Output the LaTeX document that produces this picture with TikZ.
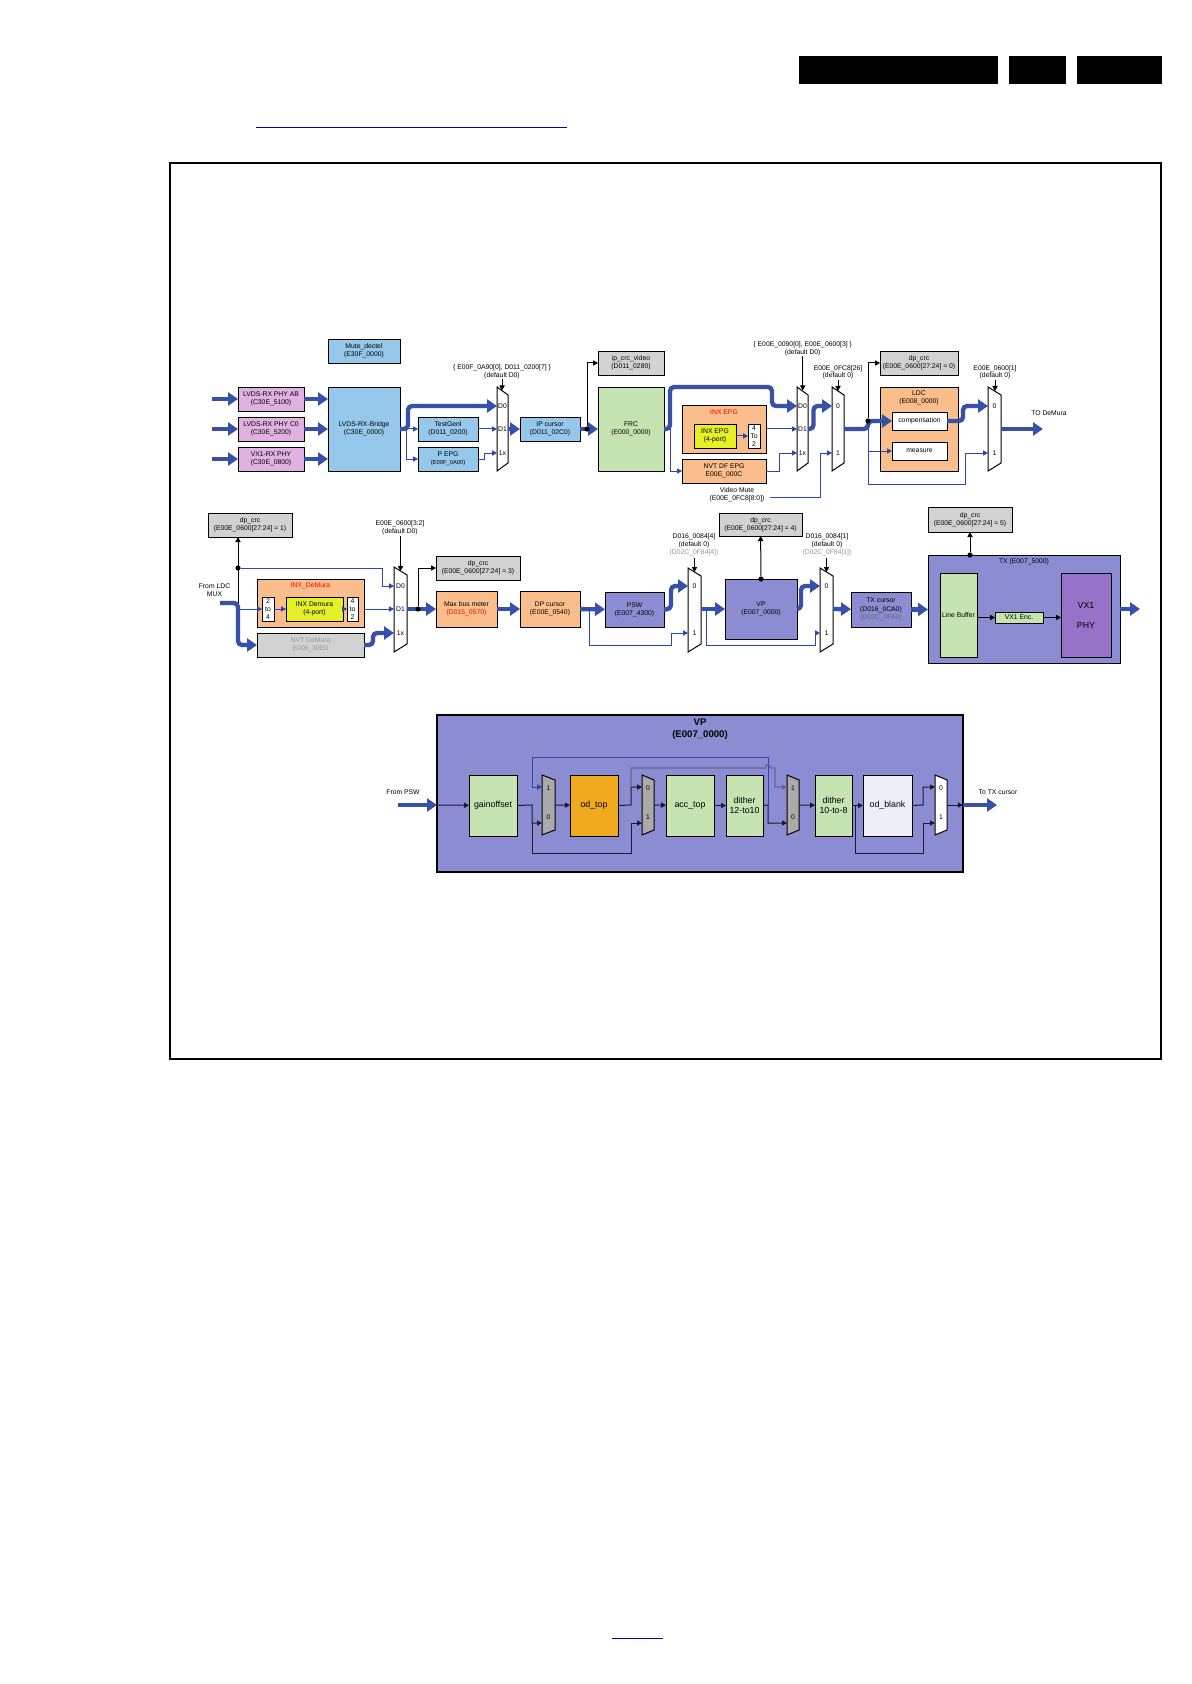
\documentclass[tikz,border=0pt]{standalone}
\usepackage{fontspec}
\setmainfont{Liberation Sans}
\usetikzlibrary{arrows.meta}
\definecolor{lblue}{RGB}{150,200,235}
\definecolor{pinkb}{RGB}{225,178,225}
\definecolor{grayb}{RGB}{210,210,210}
\definecolor{greenb}{RGB}{197,228,178}
\definecolor{orangeb}{RGB}{250,190,140}
\definecolor{yellowb}{RGB}{230,240,40}
\definecolor{purpleb}{RGB}{140,140,210}
\definecolor{vxphy}{RGB}{150,115,200}
\definecolor{odtopc}{RGB}{240,170,30}
\definecolor{mgray}{RGB}{170,170,170}
\definecolor{odblank}{RGB}{238,238,246}
\definecolor{wblue}{RGB}{55,80,170}
\definecolor{tblue}{RGB}{45,70,175}
\definecolor{gtext}{RGB}{150,150,150}
\definecolor{linkblue}{RGB}{0,0,190}
\definecolor{dkline}{RGB}{25,25,50}
\newcommand{\bx}[7]{\node[#6, minimum width={(#4-#2)*0.5pt}, minimum height={(#5-#3)*0.5pt}] (#1) at ({(#2+#4)/2},{(#3+#5)/2}) {#7};}
\newcommand{\muxp}[7]{%
  \draw[line width=0.5pt, fill=#7] (#2,#4) -- (#3,#4+#6) -- (#3,#5-#6) -- (#2,#5) -- cycle;
  \coordinate (#1) at ({(#2+#3)/2},{(#4+#5)/2});}
\begin{document}
\begin{tikzpicture}[x=0.5pt,y=-0.5pt,
  every node/.style={font=\fontsize{3.4}{4.1}\selectfont, inner sep=0pt},
  box/.style={draw=black, line width=0.45pt, inner sep=0pt, outer sep=0pt, align=center},
  lbl/.style={align=center, inner sep=0pt},
  thk/.style={draw=wblue, line width=2.2pt, line join=round, rounded corners=2pt, -{Triangle[length=5pt,width=6.5pt]}},
  thn/.style={draw=tblue, line width=0.5pt, -{Triangle[length=2.5pt,width=2.6pt]}},
  blk/.style={draw=black, line width=0.5pt, -{Triangle[length=2.5pt,width=2.6pt]}},
  dk/.style={draw=dkline, line width=0.5pt, -{Triangle[length=2.5pt,width=2.6pt]}},
  dot/.style={circle, fill=black, inner sep=0pt, minimum size=2.6pt},
  vpt/.style={font=\fontsize{4.4}{5.3}\selectfont, align=center},
  mlab/.style={font=\fontsize{3.4}{4}\selectfont}]
\useasboundingbox (0,0) rectangle (1191,1684);
\fill[white] (0,0) rectangle (1191,1684);
% header bars
\fill[black] (799,56) rectangle (998,84);
\fill[black] (1009,56) rectangle (1066,84);
\fill[black] (1077,56) rectangle (1162,84);
\draw[linkblue, line width=0.7pt] (256,127.3) -- (566.7,127.3);
\draw[linkblue, line width=0.7pt] (612.3,1638.3) -- (662.7,1638.3);
% frame
\draw[line width=1pt] (170,163) rectangle (1161,1059);

% ================= ROW 1 =================
\bx{mute}{328}{339}{400}{363}{box,fill=lblue}{Mute\_dectel\\(E30F\_0000)}
\bx{phyab}{238}{387}{304}{411}{box,fill=pinkb}{LVDS-RX PHY AB\\(C30E\_5100)}
\bx{phyc0}{238}{417}{304}{441}{box,fill=pinkb}{LVDS-RX PHY C0\\(C30E\_5200)}
\bx{vx1rx}{238}{447}{304}{471}{box,fill=pinkb}{VX1-RX PHY\\(C30E\_0800)}
\bx{bridge}{328}{387}{400}{471}{box,fill=lblue}{LVDS-RX-Bridge\\(C30E\_0000)}
\bx{testgen}{418}{417}{478}{441}{box,fill=lblue}{TestGenl\\(D011\_0200)}
\bx{pepg}{418}{447}{478}{471}{box,fill=lblue}{P EPG\\{\fontsize{2.9}{3.5}\selectfont (E00F\_0A00)}}
\muxp{muxA}{497}{508}{387}{471}{8}{white}
\node[mlab] (muxAd0) at (502.5,406) {D0};
\node[mlab] (muxAd1) at (502.5,429) {D1};
\node[mlab] (muxA1x) at (502.5,453) {1x};
\node[lbl] (labA1) at (502,368) {\{ E00F\_0A90[0], D011\_0200[7] \}};
\node[lbl] (labA2) at (502,376) {(default D0)};
\bx{ipcur}{520}{417}{580}{441}{box,fill=lblue}{IP cursor\\(D011\_02C0)}
\bx{ipcrc}{598}{351}{664}{375}{box,fill=grayb}{ip\_crc\_video\\(D011\_0280)}
\bx{frc}{598}{387}{664}{471}{box,fill=greenb}{FRC\\(E000\_0000)}
\bx{inxepg}{682}{405}{766}{453}{box,fill=orangeb}{}
\node[text=red] (inxepgt) at (724,412) {INX EPG};
\bx{inxepg4}{694}{424}{736}{448}{box,fill=yellowb}{INX EPG\\(4-port)}
\bx{to2}{748}{424}{760}{448}{box,fill=white}{4\\To\\2}
\bx{nvtepg}{682}{459}{766}{483}{box,fill=orangeb}{NVT DF EPG\\E00E\_000C}
\muxp{muxB}{797}{808}{387}{471}{8}{white}
\node[mlab] (muxBd0) at (802.5,406) {D0};
\node[mlab] (muxBd1) at (802.5,429) {D1};
\node[mlab] (muxB1x) at (802.5,453) {1x};
\node[lbl] (labB1) at (802.7,345) {\{ E00E\_0090[0], E00E\_0600[3] \}};
\node[lbl] (labB2) at (802.7,352.5) {(default D0)};
\muxp{muxC}{832}{844}{387}{471}{8}{white}
\node[mlab] (muxC0) at (838,406) {0};
\node[mlab] (muxC1) at (838,453) {1};
\node[lbl] (labC1) at (838,368.3) {E00E\_0FC8[26]};
\node[lbl] (labC2) at (838,376) {(default 0)};
\node[lbl] (vmute) at (737,494.5) {Video Mute\\(E00E\_0FC8[8:0])};
\bx{dpcrc0}{880}{351}{958}{375}{box,fill=grayb}{dp\_crc\\(E00E\_0600[27:24] = 0)}
\bx{ldc}{880}{387}{958}{471}{box,fill=orangeb}{}
\node[lbl] (ldct) at (919,398) {LDC\\(E008\_0000)};
\bx{comp}{892}{412}{947}{430}{box,fill=white}{compensation}
\bx{meas}{892}{442}{947}{460}{box,fill=white}{measure}
\muxp{muxD}{988}{1001}{387}{471}{8}{white}
\node[mlab] (muxD0) at (994.5,406) {0};
\node[mlab] (muxD1) at (994.5,453) {1};
\node[lbl] (labD1) at (995,368.3) {E00E\_0600[1]};
\node[lbl] (labD2) at (995,376) {(default 0)};
\node[lbl] (todemt) at (1049,413) {TO DeMura};

% row 1 wires
\coordinate (i1) at (212,399);
\coordinate (i2) at (212,429);
\coordinate (i3) at (212,459);
\draw[thk] (i1) -- (phyab);
\draw[thk] (i2) -- (phyc0);
\draw[thk] (i3) -- (vx1rx);
\draw[thk] (phyab) -- (phyab -| bridge.west);
\draw[thk] (phyc0) -- (phyc0 -| bridge.west);
\draw[thk] (vx1rx) -- (vx1rx -| bridge.west);
\draw[thn] (406,429) -- (testgen);
\draw[thn] (406,429) |- (pepg);
\draw[thk] (bridge.east) -- (408,429) -- (408,406) -- (497,406);
\draw[thn] (testgen) -- (497,429);
\draw[thn] (pepg.east) -- (484,459) |- (497,453);
\draw[blk] (502,379.5) -- (502,390.5);
\draw[thk] (508,429) -- (ipcur);
\draw[thk] (ipcur) -- (frc);
\node[dot] (d1) at (587,429) {};
\draw[blk] (d1) |- (ipcrc);
\draw[thk] (frc.east) -- (670,429) -- (670,387) -- (772,387) -- (772,406) -- (797,406);
\draw[thn] (670,429) |- (nvtepg);
\draw[thn] (inxepg4) -- (to2);
\draw[thn] (inxepg.east) -- (797,429);
\draw[thn] (nvtepg.east) -- (779,471) |- (797,453);
\draw[blk] (802.7,356.5) -- (802.7,390.5);
\draw[thk] (808,429) -- (813.5,429) -- (813.5,406) -- (832,406);
\coordinate (vmin) at (770,497);
\draw[thn] (vmin) -- (820,497) |- (832,453);
\draw[blk] (838,380) -- (838,391);
\draw[thk] (844,429) -- (868,429) -- (868,421) -- (comp.west);
\node[dot] (d2) at (868,421) {};
\draw[blk] (d2) |- (dpcrc0);
\draw[thn] (d2) |- (meas);
\draw[thn] (868,451) -- (868,484) -- (965,484) |- (988,453);
\draw[thk] (comp.east) -- (963,421) -- (963,406) -- (988,406);
\draw[blk] (995,380) -- (995,391);
\coordinate (todem) at (1043,429);
\draw[thk] (1001,429) -- (todem);

% ================= ROW 2 =================
\bx{dpcrc1}{208}{513}{292}{537}{box,fill=grayb}{dp\_crc\\(E00E\_0600[27:24] = 1)}
\node[lbl] (fromldc) at (214.5,590.5) {From LDC\\MUX};
\bx{inxdem}{257}{579}{364}{627}{box,fill=orangeb}{}
\node[text=red] (inxdemt) at (310.5,586) {INX\_DeMura};
\bx{to4}{262}{597}{274}{621}{box,fill=white}{2\\to\\4}
\bx{inxdem4}{286}{597}{343}{621}{box,fill=yellowb}{INX Demura\\(4-port)}
\bx{to2b}{347}{597}{358}{621}{box,fill=white}{4\\to\\2}
\bx{nvtdem}{257}{633}{364}{657}{box,fill=grayb,text=gtext}{NVT DeMura\\E006\_30E0}
\muxp{muxE}{394}{407}{567}{652}{8}{white}
\node[mlab] (muxEd0) at (400.5,586) {D0};
\node[mlab] (muxEd1) at (400.5,609) {D1};
\node[mlab] (muxE1x) at (400.5,633) {1x};
\node[lbl] (labE1) at (400,524) {E00E\_0600[3:2]};
\node[lbl] (labE2) at (400,532) {(default D0)};
\bx{dpcrc3}{436}{556}{520}{580}{box,fill=grayb}{dp\_crc\\(E00E\_0600[27:24] = 3)}
\bx{maxbus}{436}{591}{497}{627}{box,fill=orangeb}{Max bus meter\\\textcolor{red}{(D015\_0570)}}
\bx{dpcur}{520}{591}{580}{627}{box,fill=orangeb}{DP cursor\\(E00E\_0540)}
\bx{psw}{605}{592}{664}{627}{box,fill=purpleb}{PSW\\(E007\_4300)}
\muxp{muxF}{688}{701}{568}{652}{8}{white}
\node[mlab] (muxF0) at (694.5,586) {0};
\node[mlab] (muxF1) at (694.5,633) {1};
\node[lbl] (labF) at (694,545) {D016\_0084[4]\\(default 0)\\\textcolor{gtext}{(D02C\_0F84[4])}};
\bx{vp}{725}{579}{797}{639}{box,fill=purpleb}{VP\\(E007\_0000)}
\bx{dpcrc4}{719}{513}{802}{536}{box,fill=grayb}{dp\_crc\\(E00E\_0600[27:24] = 4)}
\muxp{muxG}{820}{833}{568}{652}{8}{white}
\node[mlab] (muxG0) at (826.5,586) {0};
\node[mlab] (muxG1) at (826.5,633) {1};
\node[lbl] (labG) at (827,545) {D016\_0084[1]\\(default 0)\\\textcolor{gtext}{(D02C\_0F84[1])}};
\bx{txcur}{851}{592}{911}{627}{box,fill=purpleb}{TX cursor\\(D016\_0CA0)\\\textcolor{gtext!70!black}{(D02C\_0FA0)}}
\bx{tx}{928}{555}{1120}{663}{box,fill=purpleb}{}
\node (txt) at (1024,562) {TX (E007\_5000)};
\bx{dpcrc5}{928}{507}{1012}{532}{box,fill=grayb}{dp\_crc\\(E00E\_0600[27:24] = 5)}
\bx{linebuf}{940}{573}{977}{657}{box,fill=greenb}{Line Buffer}
\bx{vx1enc}{995}{612}{1043}{623}{box,fill=greenb}{VX1 Enc.}
\bx{phy}{1061}{573}{1111}{657}{box,fill=vxphy,font=\fontsize{4.4}{5}\selectfont}{VX1\\[5pt]PHY}

% row 2 wires
\coordinate (ldcin) at (220,603);
\draw[thk] (ldcin) -- (238,603) -- (238,645) -- (nvtdem.west);
\draw[thn] (238,609) -- (to4);
\draw[blk] (238,603) -- (238,537);
\node[dot] (d3) at (238,568) {};
\draw[thn] (d3) -- (382,568) |- (394,586);
\draw[thn] (to4) -- (inxdem4);
\draw[thn] (inxdem4) -- (to2b);
\draw[thn] (to2b -| inxdem.east) -- (394,609);
\draw[thk] (nvtdem.east) -- (373,645) -- (373,633) -- (394,633);
\draw[blk] (400.5,536) -- (400.5,571);
\draw[thk] (407,609) -- (maxbus);
\node[dot] (d4) at (418,609) {};
\draw[blk] (d4) |- (dpcrc3);
\draw[thk] (maxbus) -- (dpcur);
\draw[thk] (dpcur) -- (psw);
\draw[thn] (589,609) -- (589,645) -- (671,645) |- (688,633);
\draw[thk] (psw.east) -- (671,609) -- (671,586) -- (688,586);
\draw[blk] (694.5,557.5) -- (694.5,572);
\draw[thk] (701,609) -- (vp);
\draw[thn] (706,609) -- (706,645) -- (815,645) |- (820,633);
\node[dot] (d5) at (761,579) {};
\draw[blk] (d5) -- (dpcrc4);
\draw[thk] (vp.east) -- (801,609) -- (801,586) -- (820,586);
\draw[blk] (826.5,557.5) -- (826.5,572);
\draw[thk] (833,609) -- (txcur);
\draw[thk] (txcur) -- (txcur -| tx.west);
\node[dot] (d6) at (970,555) {};
\draw[blk] (d6) -- (dpcrc5);
\draw[blk] (linebuf.east |- vx1enc) -- (vx1enc);
\draw[blk] (vx1enc) -- (vx1enc -| phy.west);
\coordinate (txout) at (1140,609);
\draw[thk] (tx.east) -- (txout);

% ================= VP detail =================
\bx{vpbig}{437}{715}{963}{872}{box,fill=purpleb,line width=0.6pt}{}
\node[font=\fontsize{4.8}{5.8}\selectfont\bfseries, align=center] (vptitle) at (700,729) {VP\\(E007\_0000)};
\node (frompsw) at (403,792) {From PSW};
\coordinate (pswin) at (398,805);
\draw[thk] (pswin) -- (437,805);
\bx{gain}{469}{775}{517}{836}{box,fill=greenb,vpt}{gainoffset}
\muxp{ma}{542}{555}{775}{835}{5}{mgray}
\bx{odtop}{570}{775}{618}{836}{box,fill=odtopc,vpt}{od\_top}
\muxp{mb}{642}{654}{775}{835}{5}{mgray}
\bx{acc}{666}{775}{714}{836}{box,fill=greenb,vpt}{acc\_top}
\bx{dith1}{726}{775}{763}{836}{box,fill=greenb,vpt}{dither\\12-to10}
\muxp{mc}{787}{799}{775}{835}{5}{mgray}
\bx{dith2}{815}{775}{852}{836}{box,fill=greenb,vpt}{dither\\10-to-8}
\bx{odb}{863}{775}{912}{836}{box,fill=odblank,vpt}{od\_blank}
\muxp{md}{935}{947}{775}{835}{5}{white}
\node[mlab] (ma1) at (548.5,788) {1};
\node[mlab] (ma0) at (548.5,817) {0};
\node[mlab] (mb0) at (648,788) {0};
\node[mlab] (mb1) at (648,817) {1};
\node[mlab] (mc1) at (793,788) {1};
\node[mlab] (mc0) at (793,817) {0};
\node[mlab] (md0) at (941,788) {0};
\node[mlab] (md1) at (941,817) {1};
\draw[dk] (437,805) -- (gain);
\draw[dk] (gain.east) -- (532,805) -- (532,823) -- (542,823);
\draw[dk] (532,823) -- (532,853) -- (631,853) -- (631,823) -- (642,823);
\draw[draw=tblue, line width=0.5pt, -{Triangle[length=2.5pt,width=2.6pt]}] (768,805) -- (768,757) -- (532,757) -- (532,787) -- (542,787);
\draw[dk] (555,805) -- (odtop);
\draw[dk] (odtop.east) -- (631,805) -- (631,787) -- (642,787);
\draw[draw=black!70!blue!60, line width=0.7pt, -{Triangle[length=2.5pt,width=2.6pt]}] (631,787) -- (631,768) -- (765.5,768) .. controls (765.5,763.5) and (770.5,763.5) .. (770.5,768) -- (775,768) -- (775,787) -- (787,787);
\draw[dk] (654,805) -- (acc);
\draw[dk] (acc) -- (dith1);
\draw[dk] (dith1.east) -- (768,805) -- (768,823) -- (787,823);
\draw[dk] (799,805) -- (dith2);
\draw[dk] (dith2) -- (odb);
\draw[dk] (855,805) -- (855,853) -- (923,853) -- (923,823) -- (935,823);
\draw[dk] (odb.east) -- (923,805) -- (923,787) -- (935,787);
\draw[dk] (947,805) -- (963,805);
\coordinate (totx) at (997,805);
\draw[thk] (963,805) -- (totx);
\node (totxt) at (998,792) {To TX cursor};
\end{tikzpicture}
\end{document}
